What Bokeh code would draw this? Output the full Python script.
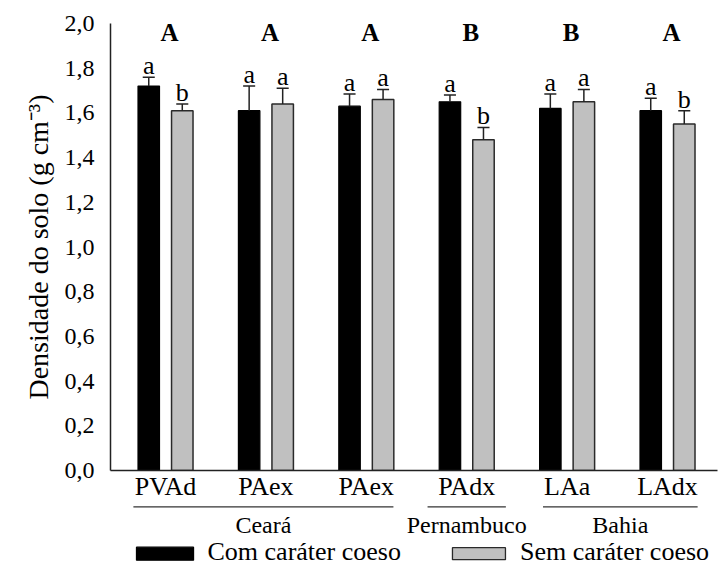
from bokeh.plotting import figure
from bokeh.models import FixedTicker, Range1d, ColumnDataSource
from bokeh.core.properties import value
from bokeh.embed import file_html
from bokeh.resources import INLINE

# Soil classes (one pair of bars each) and the states they were sampled in
soils = ["PVAd", "PAex", "PAex", "PAdx", "LAa", "LAdx"]
states = ["Ceará", "Pernambuco", "Bahia"]
state_first = [0, 3, 4]
state_last = [2, 3, 5]

# Bulk density (g cm-3) with standard deviation
com_density = [1.72, 1.61, 1.63, 1.65, 1.62, 1.61]
com_error = [0.04, 0.11, 0.055, 0.03, 0.065, 0.055]
sem_density = [1.61, 1.64, 1.66, 1.48, 1.65, 1.55]
sem_error = [0.03, 0.07, 0.045, 0.055, 0.055, 0.06]

# Mean comparison letters
com_letters = ["a", "a", "a", "a", "a", "a"]
sem_letters = ["b", "a", "a", "b", "a", "b"]
soil_letters = ["A", "A", "A", "B", "B", "A"]

series_names = ["Com caráter coeso", "Sem caráter coeso"]

y_ticks = [0.0, 0.2, 0.4, 0.6, 0.8, 1.0, 1.2, 1.4, 1.6, 1.8, 2.0]
y_tick_labels = ["0,0", "0,2", "0,4", "0,6", "0,8", "1,0", "1,2", "1,4", "1,6", "1,8", "2,0"]

FONT = "Liberation Serif"
BLACK = "black"
GREY = "#c0c0c0"
EDGE = "#2a2a2a"
BAR_W = 0.214
DODGE = 0.167
CAP = 0.06

idx = list(range(len(soils)))
x_com = [i - DODGE for i in idx]
x_sem = [i + DODGE for i in idx]

p = figure(width=718, height=567, output_backend="svg", toolbar_location=None,
           x_range=Range1d(-0.548, 5.498), y_range=Range1d(0, 2.0),
           min_border_left=110, min_border_right=1, min_border_top=23, min_border_bottom=97)
p.outline_line_color = None
p.grid.visible = False
p.background_fill_color = "white"

com_src = ColumnDataSource(dict(x=x_com, top=com_density, err=[t + e for t, e in zip(com_density, com_error)], lab=com_letters))
sem_src = ColumnDataSource(dict(x=x_sem, top=sem_density, err=[t + e for t, e in zip(sem_density, sem_error)], lab=sem_letters))

p.vbar(x="x", top="top", width=BAR_W, bottom=0, source=com_src,
       fill_color=BLACK, line_color=BLACK, line_width=1.2)
p.vbar(x="x", top="top", width=BAR_W, bottom=0, source=sem_src,
       fill_color=GREY, line_color=EDGE, line_width=1.5)

for src in (com_src, sem_src):
    d = src.data
    # upper whisker and cap
    p.segment(x0=d["x"], y0=d["top"], x1=d["x"], y1=d["err"], line_color="#222222", line_width=1.5)
    p.segment(x0=[x - CAP for x in d["x"]], y0=d["err"], x1=[x + CAP for x in d["x"]], y1=d["err"],
              line_color="#222222", line_width=1.5)
    p.text(x="x", y="err", text="lab", source=src, text_align="center", text_baseline="bottom",
           y_offset=3, text_font=value(FONT), text_font_size="26px", text_color="black")

# letters comparing soil classes
p.text(x=[i + 0.04 for i in idx], y=[1.958] * len(idx), text=soil_letters, text_align="center",
       text_baseline="middle", text_font=value(FONT), text_font_size="25px",
       text_font_style="bold", text_color="black")

# state brackets under the category labels
line_start = [-0.32, 2.61, 3.76]
line_end = [2.27, 3.39, 5.30]
r_br = p.segment(x0=line_start, y0=[-0.163] * 3, x1=line_end, y1=[-0.163] * 3,
                 line_color="#333333", line_width=1.3)
r_br.level = "overlay"
r_st = p.text(x=[(a + b) / 2 for a, b in zip(line_start, line_end)], y=[-0.245] * 3, text=states,
              text_align="center", text_baseline="middle", text_font=value(FONT),
              text_font_size="24px", text_color="black")
r_st.level = "overlay"

# key below the chart: swatch + label for each series
key_swatch_x = [-0.005, 3.122]
key_swatch_w = [57, 53]
key_text_x = [0.418, 3.53]
r_ks = p.rect(x=key_swatch_x, y=[-0.372] * 2, width=key_swatch_w, height=[13, 12],
              width_units="screen", height_units="screen",
              fill_color=[BLACK, GREY], line_color=[BLACK, EDGE], line_width=1.3)
r_ks.level = "overlay"
r_kt = p.text(x=key_text_x, y=[-0.361] * 2, text=series_names, text_align="left",
              text_baseline="middle", text_font=value(FONT), text_font_size="26px",
              text_color="black")
r_kt.level = "overlay"

# axes
p.yaxis.ticker = FixedTicker(ticks=y_ticks)
p.yaxis.major_label_overrides = {t: l for t, l in zip(y_ticks, y_tick_labels)}
p.yaxis.major_tick_out = 7
p.yaxis.major_tick_in = 0
p.yaxis.minor_tick_line_color = None
p.yaxis.major_label_standoff = 9
p.yaxis.axis_label = "Densidade do solo (g cm⁻³)"
p.yaxis.axis_label_standoff = 8
p.yaxis.axis_label_text_font_style = "normal"

p.xaxis.ticker = FixedTicker(ticks=idx)
p.xaxis.major_label_overrides = {i: s for i, s in zip(idx, soils)}
p.xaxis.minor_tick_line_color = None
p.xaxis.major_tick_out = 0
p.xaxis.major_label_standoff = 1

for ax in (p.xaxis, p.yaxis):
    ax.axis_line_color = "#222222"
    ax.axis_line_width = 1.5
    ax.major_tick_line_color = "#222222" if ax is p.yaxis else None
    ax.major_tick_line_width = 1.5
    ax.major_label_text_font = FONT
    ax.major_label_text_color = "black"
    ax.axis_label_text_font = FONT
    ax.axis_label_text_color = "black"
p.yaxis.major_label_text_font_size = "24px"
p.xaxis.major_label_text_font_size = "26px"
p.yaxis.axis_label_text_font_size = "28px"

open("out.html", "w").write(file_html(p, INLINE))
